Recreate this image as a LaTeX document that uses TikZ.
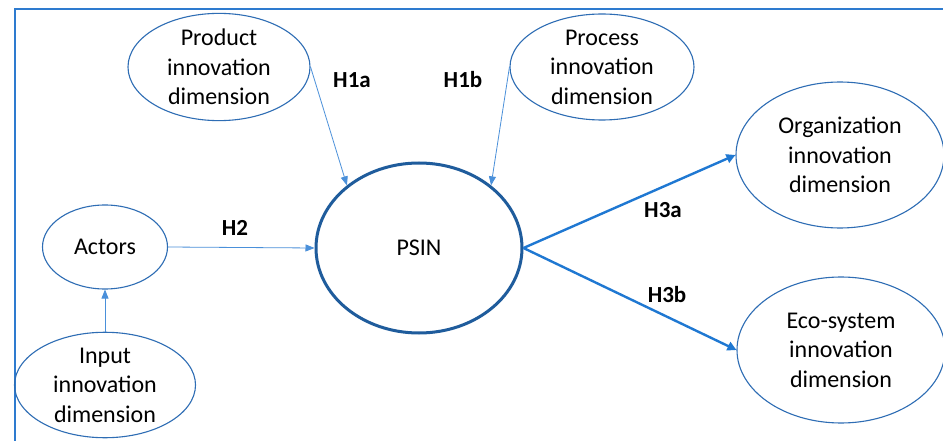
\documentclass[tikz,border=0pt]{standalone}
\usepackage{fontspec}
\setmainfont{Carlito}
\usetikzlibrary{arrows.meta,shapes.geometric}
\definecolor{ellc}{HTML}{2E6DB4}
\definecolor{psinc}{HTML}{1F5C9C}
\definecolor{thinarr}{HTML}{4A90DA}
\definecolor{thickarr}{HTML}{1F78D2}
\definecolor{framec}{HTML}{2E7BCF}
\begin{document}
\begin{tikzpicture}[x=1pt,y=-1pt,
  ell/.style={ellipse,draw=ellc,line width=1.1pt,inner sep=0pt,align=center,font=\fontsize{24}{29.5}\selectfont},
  thinarrow/.style={draw=thinarr,line width=0.8pt,-{Triangle[length=9pt,width=7pt]}},
  thickarrow/.style={draw=thickarr,line width=2.4pt,-{Triangle[length=9pt,width=9pt]}},
  hlab/.style={font=\fontsize{23}{28}\selectfont\bfseries}]
\useasboundingbox (0,0) rectangle (943,441);
\fill[white] (0,0) rectangle (943,441);
\draw[framec,line width=2pt] (15,445) -- (15,9) -- (947,9);
\node[ell,minimum width=182pt,minimum height=106pt] (prod) at (219,67) {Product\\innovation\\dimension};
\node[ell,minimum width=184pt,minimum height=106pt] (proc) at (602,67) {Process\\innovation\\dimension};
\node[ell,minimum width=208pt,minimum height=146pt] (org) at (840,155) {Organization\\innovation\\dimension};
\node[ell,minimum width=208pt,minimum height=146pt] (eco) at (841,350) {Eco-system\\innovation\\dimension};
\node[ell,minimum width=125pt,minimum height=84pt] (act) at (105,247) {Actors};
\node[ell,minimum width=181pt,minimum height=104pt] (inp) at (105,385) {Input\\innovation\\dimension};
\node[ellipse,draw=psinc,line width=3pt,inner sep=0pt,minimum width=206pt,minimum height=170pt,font=\fontsize{24}{29.5}\selectfont] (psin) at (419,248) {PSIN};
\draw[thinarrow] (prod.east) -- (psin.139);
\draw[thinarrow] (proc.west) -- (psin.41);
\draw[thinarrow] (act.east) -- (psin.west);
\draw[thinarrow] (inp.north) -- (act.south);
\draw[thickarrow] (psin.east) -- (org.west);
\draw[thickarrow] (psin.east) -- (eco.west);
\node[hlab] (h1a) at (352,80) {H1a};
\node[hlab] (h1b) at (463,80) {H1b};
\node[hlab] (h2) at (235,228) {H2};
\node[hlab] (h3a) at (663,210) {H3a};
\node[hlab] (h3b) at (667,295) {H3b};
\end{tikzpicture}
\end{document}
